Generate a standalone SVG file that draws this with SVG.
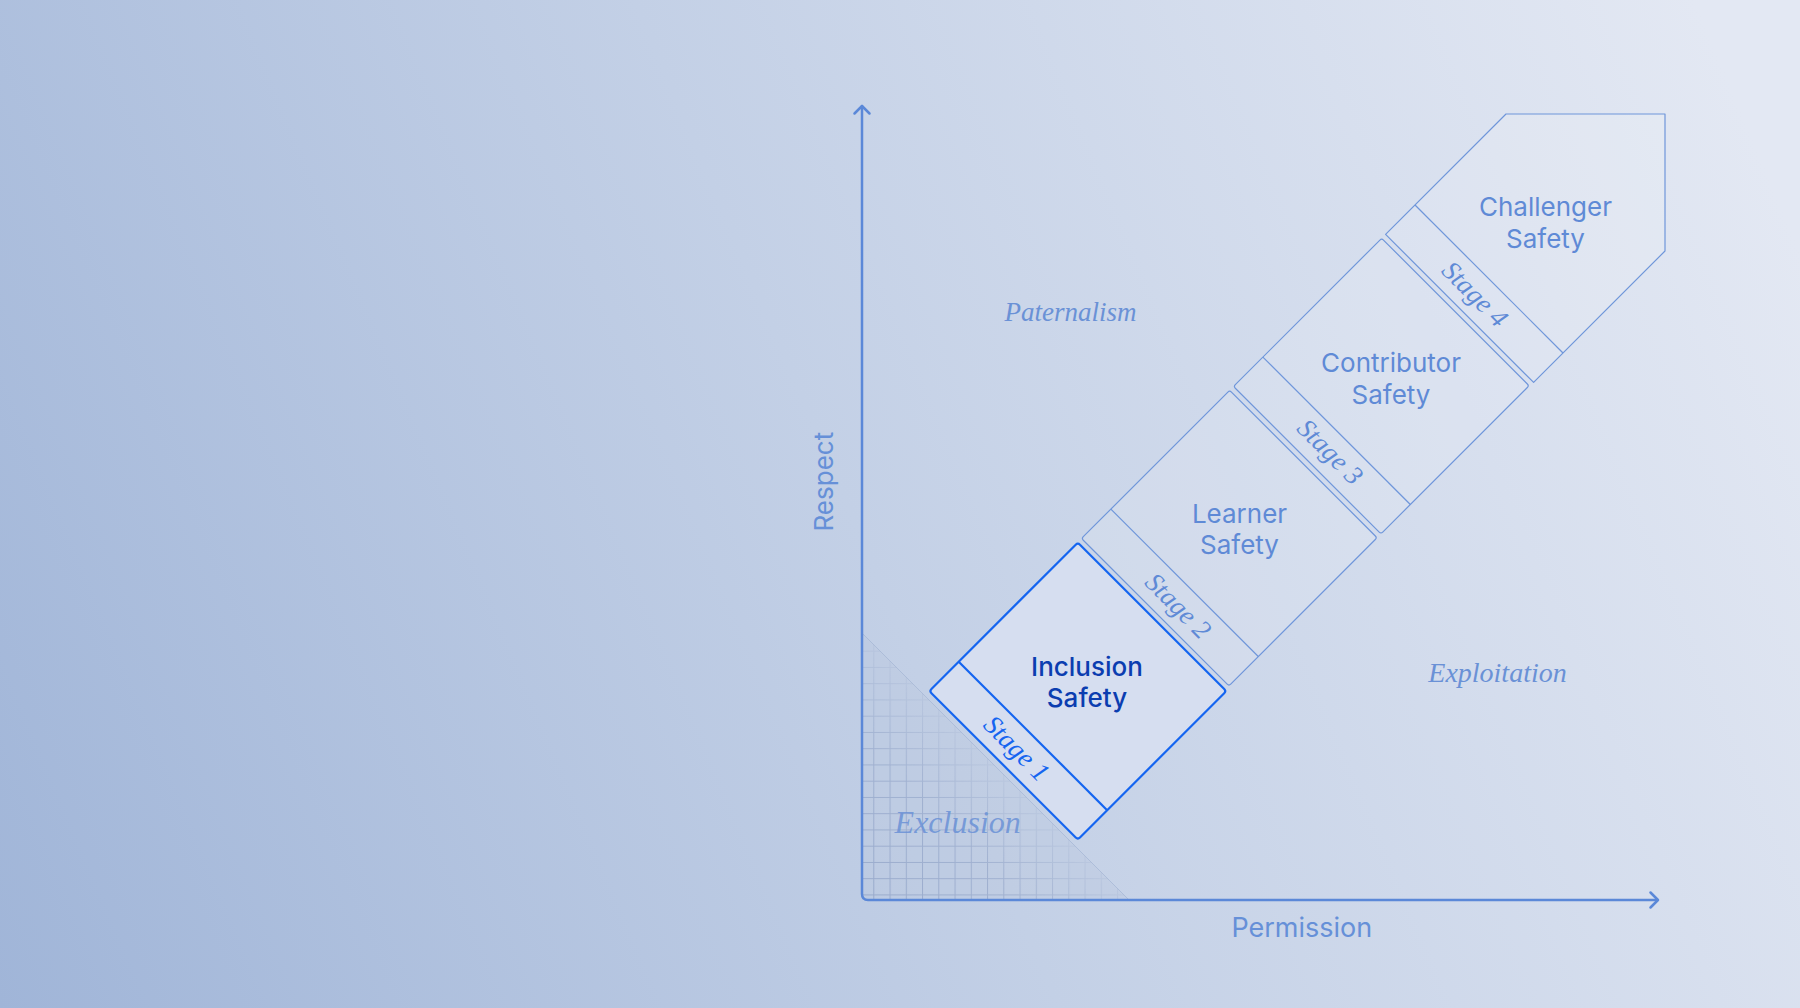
<svg xmlns="http://www.w3.org/2000/svg" width="1800" height="1008" viewBox="0 0 1800 1008">
  <defs>
    <linearGradient id="bg" gradientUnits="userSpaceOnUse" x1="0" y1="1008" x2="1800" y2="250">
      <stop offset="0" stop-color="#a0b5d8"/>
      <stop offset="0.5" stop-color="#c3d0e6"/>
      <stop offset="1" stop-color="#e3e8f3"/>
    </linearGradient>
    <pattern id="grid" patternUnits="userSpaceOnUse" x="873.3" y="650.7" width="16.25" height="16.25">
      <path d="M0.5 0V16.25M0 0.5H16.25" fill="none" stroke="#8c9fc4" stroke-width="1"/>
    </pattern>
    <linearGradient id="fadeG" gradientUnits="userSpaceOnUse" x1="862" y1="900" x2="995.5" y2="766.5">
      <stop offset="0" stop-color="#fff" stop-opacity="0.75"/>
      <stop offset="0.6" stop-color="#fff" stop-opacity="0.6"/>
      <stop offset="1" stop-color="#fff" stop-opacity="0.15"/>
    </linearGradient>
    <mask id="fade" maskUnits="userSpaceOnUse" x="0" y="0" width="1800" height="1008">
      <rect x="0" y="0" width="1800" height="1008" fill="url(#fadeG)"/>
    </mask>
    <style>
      .blk { fill: #ffffff; fill-opacity: 0.12; stroke: #6f96da; stroke-width: 1.2; stroke-linejoin: round; }
      .sep { stroke: #6f96da; stroke-width: 1.2; }
      .blk1 { fill: #d6def0; stroke: #1565f0; stroke-width: 2.2; stroke-linejoin: round; }
      .sep1 { stroke: #1565f0; stroke-width: 2.2; }
      .node { font-family: Inter, "Liberation Sans", sans-serif; font-size: 26px; fill: #5f8ad6; text-anchor: middle; }
      .node1 { font-family: Inter, "Liberation Sans", sans-serif; font-size: 26px; font-weight: 500; fill: #0b3db0; text-anchor: middle; }
      .stage { font-family: "Liberation Serif", serif; font-style: italic; font-size: 27px; fill: #5f8ad6; text-anchor: middle; dominant-baseline: central; }
      .stage1 { fill: #1565f0; }
      .quad { font-family: "Liberation Serif", serif; font-style: italic; font-size: 27px; fill: #6a91d6; text-anchor: middle; }
      .exploit { font-size: 28px; }
      .excl { font-size: 32px; fill-opacity: 0.85; }
      .axislbl { font-family: Inter, "Liberation Sans", sans-serif; font-size: 26px; fill: #6690d8; text-anchor: middle; }
      .perm { font-size: 27px; }
      .axis { fill: none; stroke: #5b88d8; stroke-width: 2.5; stroke-linecap: round; stroke-linejoin: round; }
    </style>
  </defs>

  <rect id="background" x="0" y="0" width="1800" height="1008" fill="url(#bg)"/>

  <g id="exclusion-zone">
    <polygon points="862,633 862,900 1129,900" fill="#b9c6df" fill-opacity="0.3"/>
    <polygon points="862,633 862,900 1129,900" fill="url(#grid)" mask="url(#fade)"/>
    <line x1="862" y1="633" x2="1129" y2="900" stroke="#9fb0d2" stroke-width="1" stroke-opacity="0.6"/>
  </g>

  <g id="connectors">
    <path class="axis" d="M862 106V894Q862 900 868 900H1657"/>
    <path class="axis" d="M854.5 113.5L862 106L869.5 113.5"/>
    <path class="axis" d="M1650.5 892.5L1658 900L1650.5 907.5"/>
  </g>

  <g id="node-challenger">
    <path class="blk" d="M1385.6 234.4L1506 114H1665V251L1533.6 382.4Z"/>
    <line class="sep" x1="1415" y1="205" x2="1563" y2="353"/>
    <text class="node" x="1545.5" y="216">Challenger</text>
    <text class="node" x="1545.5" y="247.5">Safety</text>
    <text class="stage" transform="translate(1475 294) rotate(45)">Stage 4</text>
  </g>

  <g id="node-contributor">
    <g transform="rotate(-45)">
      <rect class="blk" x="599" y="1145.5" width="209.5" height="208.5" rx="2.5"/>
      <line class="sep" x1="640.5" y1="1145.5" x2="640.5" y2="1354"/>
    </g>
    <text class="node" x="1391" y="372">Contributor</text>
    <text class="node" x="1391" y="403.5">Safety</text>
    <text class="stage" transform="translate(1330.3 451.7) rotate(45)">Stage 3</text>
  </g>

  <g id="node-learner">
    <g transform="rotate(-45)">
      <rect class="blk" x="384" y="1145.5" width="209.5" height="208.5" rx="2.5"/>
      <line class="sep" x1="425.5" y1="1145.5" x2="425.5" y2="1354"/>
    </g>
    <text class="node" x="1239.5" y="523">Learner</text>
    <text class="node" x="1239.5" y="554">Safety</text>
    <text class="stage" transform="translate(1178.3 605.8) rotate(45)">Stage 2</text>
  </g>

  <g id="node-inclusion">
    <g transform="rotate(-45)">
      <rect class="blk1" x="168.5" y="1145.8" width="210" height="210" rx="3"/>
      <line class="sep1" x1="210" y1="1145.8" x2="210" y2="1355.8"/>
    </g>
    <text class="node1" x="1087" y="676">Inclusion</text>
    <text class="node1" x="1087" y="707">Safety</text>
    <text class="stage stage1" transform="translate(1016.7 748.3) rotate(45)">Stage 1</text>
  </g>

  <g id="labels">
    <text class="quad" x="1070.5" y="320.7">Paternalism</text>
    <text class="quad exploit" x="1497.5" y="682">Exploitation</text>
    <text class="quad excl" x="957.7" y="833">Exclusion</text>
    <text class="axislbl" transform="translate(832.7 481.7) rotate(-90)">Respect</text>
    <text class="axislbl perm" x="1301.8" y="937.3">Permission</text>
  </g>
</svg>
